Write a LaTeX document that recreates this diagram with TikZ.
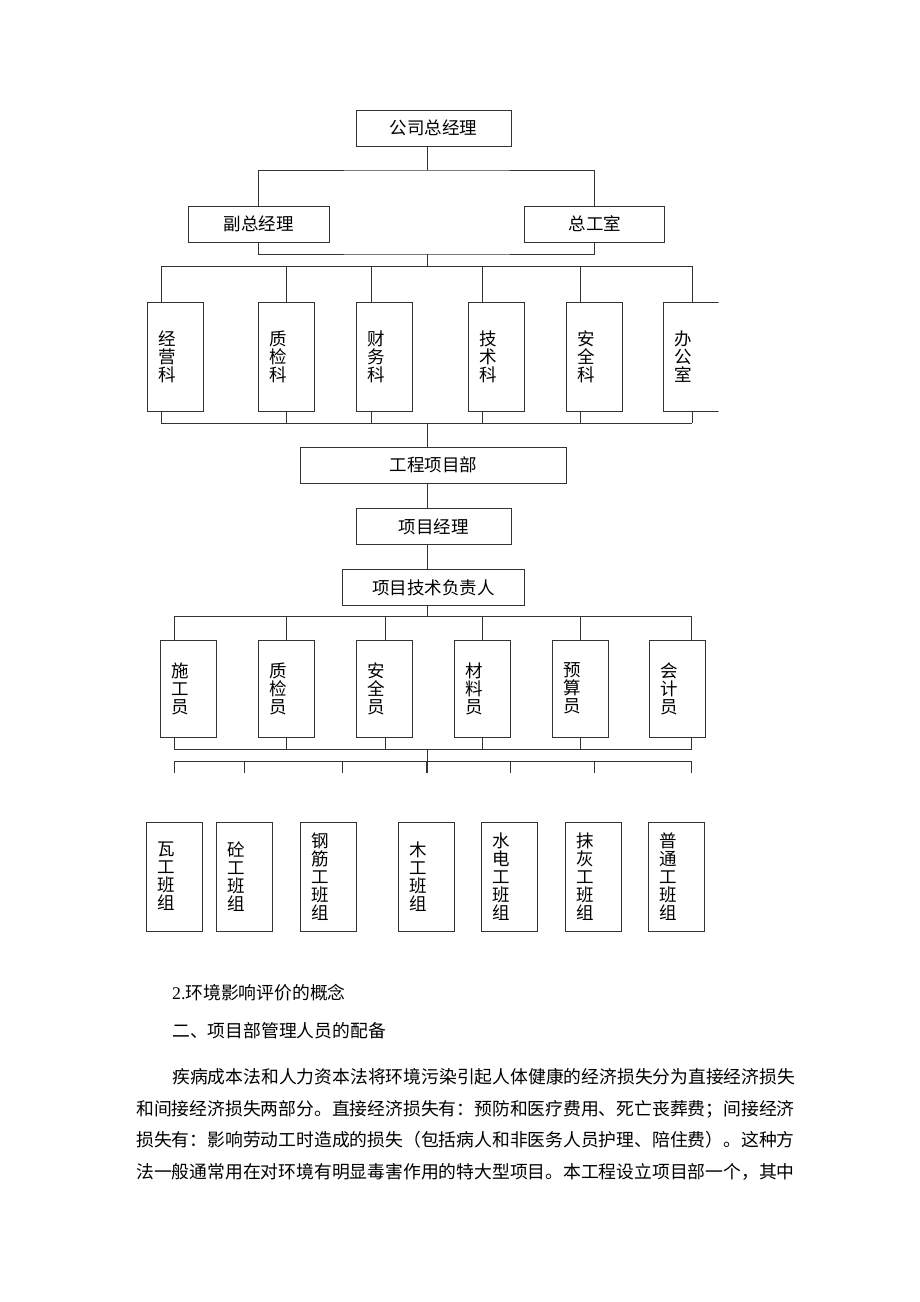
\documentclass[tikz,border=0pt]{standalone}
\usepackage{fontspec}
\setmainfont{Liberation Serif}
\newfontfamily\cn{Noto Sans CJK SC}
\usetikzlibrary{positioning}
\tikzset{%
  box/.style={draw=black!80,line width=1pt,inner sep=0pt,font=\cn\fontsize{17.5}{18}\selectfont},
  hbox/.style={box,minimum height=36pt},
  vbox/.style={box,text width=34pt,align=left,inner xsep=11pt},
  link/.style={draw=black!80,line width=1pt},
  para/.style={anchor=west,inner sep=0pt,font=\cn\fontsize{17.8}{18}\selectfont}
}

\begin{document}
\begin{tikzpicture}[x=1pt,y=-1pt]
  \fill[white] (0,0) rectangle (920,1302);
  \useasboundingbox (0,0) rectangle (920,1302);

  % company level
  \node[hbox,minimum width=155pt] (gm) at (433.5,128) {公司总经理};
  \node[hbox,minimum width=141pt] (vp) at (258.5,224) {副总经理};
  \node[hbox,minimum width=140pt] (ce) at (594.8,224) {总工室};
  \coordinate (t0) at (427,170);
  \coordinate (t1) at (427,254);
  \coordinate (t2) at (427,266);
  \draw[link] (gm.south -| t0) -- (t0);
  \draw[link] (vp.north) |- (t0) -| (ce.north);
  \draw[link] (vp.south) |- (t1) -| (ce.south);
  \draw[link] (t1) -- (t2);

  % departments
  \node[vbox,minimum height=109pt] (d1) at (175,356.5) {经\\营\\科};
  \node[vbox,minimum height=109pt] (d2) at (286.3,356.5) {质\\检\\科};
  \node[vbox,minimum height=109pt] (d3) at (384.7,356.5) {财\\务\\科};
  \node[vbox,minimum height=109pt] (d4) at (496.3,356.5) {技\\术\\科};
  \node[vbox,minimum height=109pt] (d5) at (594,356.5) {安\\全\\科};
  \begin{scope}
    \clip (0,0) rectangle (718.5,1302);
    \node[vbox,minimum height=109pt] (d6) at (691.3,356.5) {办\\公\\室};
  \end{scope}
  \foreach \n/\x in {1/161,2/286,3/371,4/482,5/580,6/692} {
    \coordinate (dj\n) at (\x,266);
    \coordinate (dk\n) at (\x,423);
    \draw[link] (dj\n) -- (dj\n |- d\n.north);
    \draw[link] (dk\n |- d\n.south) -- (dk\n);
  }
  \draw[link] (dj1) -- (dj6);
  \draw[link] (dk1) -- (dk6);

  % project department
  \coordinate (t3) at (427,423);
  \node[hbox,minimum width=266pt] (gp) at (433.6,465) {工程项目部};
  \node[hbox,minimum width=155pt,below=24.5pt of gp] (pm) {项目经理};
  \node[hbox,minimum width=182pt,below=24pt of pm] (tl) {项目技术负责人};
  \coordinate (t4) at (427,616);
  \draw[link] (t3) -- (t3 |- gp.north);
  \draw[link] (t3 |- gp.south) -- (t3 |- pm.north);
  \draw[link] (t3 |- pm.south) -- (t3 |- tl.north);
  \draw[link] (t4 |- tl.south) -- (t4);

  % staff
  \node[vbox,minimum height=97pt] (s1) at (188.7,688.5) {施\\工\\员};
  \node[vbox,minimum height=97pt] (s2) at (286.3,688.5) {质\\检\\员};
  \node[vbox,minimum height=97pt] (s3) at (384.7,688.5) {安\\全\\员};
  \node[vbox,minimum height=97pt] (s4) at (482,688.5) {材\\料\\员};
  \node[vbox,minimum height=97pt] (s5) at (580.3,688.5) {预\\算\\员};
  \node[vbox,minimum height=97pt] (s6) at (677.3,688.5) {会\\计\\员};
  \foreach \n/\x in {1/174.3,2/286.7,3/385,4/482.3,5/580,6/691.7} {
    \coordinate (sj\n) at (\x,616);
    \coordinate (sk\n) at (\x,749);
    \draw[link] (sj\n) -- (sj\n |- s\n.north);
    \draw[link] (sk\n |- s\n.south) -- (sk\n);
  }
  \draw[link] (sj1) -- (sj6);
  \draw[link] (sk1) -- (sk6);
  \coordinate (t5) at (427,749);
  \coordinate (t6) at (427,773);
  \draw[link] (t5) -- (t6);

  % work teams
  \foreach \n/\x in {1/174.3,2/244.5,3/342.4,4/426,5/510,6/594.3,7/691.7} {
    \coordinate (wj\n) at (\x,761);
    \coordinate (wk\n) at (\x,773);
    \draw[link] (wj\n) -- (wk\n);
  }
  \draw[link] (wj1) -- (wj7);
  \node[vbox,minimum height=109pt] (w1) at (174.7,876.5) {瓦\\工\\班\\组};
  \node[vbox,minimum height=109pt] (w2) at (244.7,876.5) {砼\\工\\班\\组};
  \node[vbox,minimum height=109pt] (w3) at (328.3,876.5) {钢\\筋\\工\\班\\组};
  \node[vbox,minimum height=109pt] (w4) at (426.3,876.5) {木\\工\\班\\组};
  \node[vbox,minimum height=109pt] (w5) at (509.3,876.5) {水\\电\\工\\班\\组};
  \node[vbox,minimum height=109pt] (w6) at (593.3,876.5) {抹\\灰\\工\\班\\组};
  \node[vbox,minimum height=109pt] (w7) at (676.5,876.5) {普\\通\\工\\班\\组};

  % text below
  \node[para] (h1) at (172,993) {{\rmfamily 2.}环境影响评价的概念};
  \node[para] (h2) at (172,1031) {二、项目部管理人员的配备};
  \node[para] (p1) at (172,1077) {疾病成本法和人力资本法将环境污染引起人体健康的经济损失分为直接经济损失};
  \node[para] (p2) at (136,1109) {和间接经济损失两部分。直接经济损失有：预防和医疗费用、死亡丧葬费；间接经济};
  \node[para] (p3) at (136,1140) {损失有：影响劳动工时造成的损失（包括病人和非医务人员护理、陪住费）。这种方};
  \node[para] (p4) at (136,1172) {法一般通常用在对环境有明显毒害作用的特大型项目。本工程设立项目部一个，其中};
\end{tikzpicture}
\end{document}
